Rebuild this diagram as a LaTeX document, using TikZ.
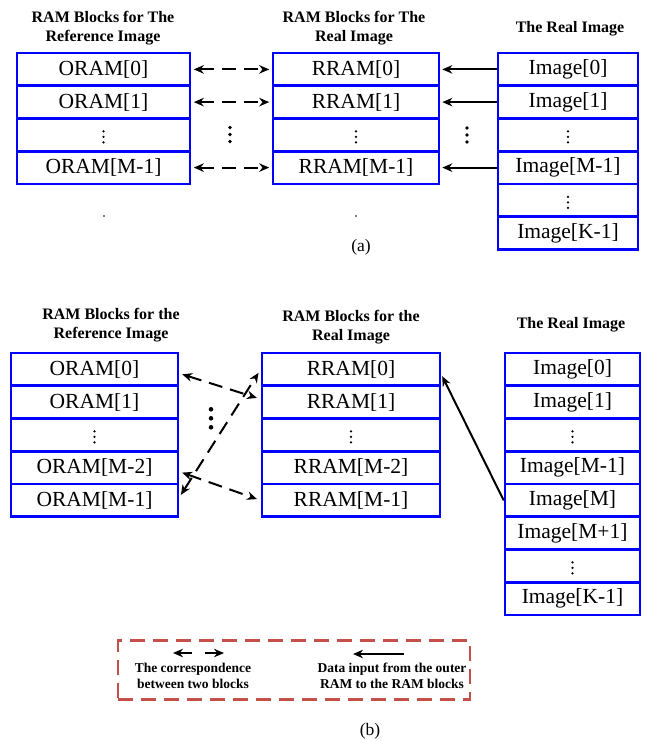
\documentclass[tikz,border=0pt]{standalone}
\usepackage{fontspec}
\setmainfont{Liberation Serif}
\usetikzlibrary{arrows.meta,calc}

% three stacked dots centred on a coordinate: name, spacing, radius
\newcommand\threedots[3]{%
  \foreach \k in {-1,0,1} {\fill ($(#1)+(0,\k*#2)$) circle (#3);}}

\definecolor{legred}{RGB}{196,80,74}

\begin{document}
\begin{tikzpicture}[x=1pt,y=-1pt,
  cell/.style={draw=blue, line width=2.6pt, minimum height=32.75pt, inner sep=0pt,
    font=\fontsize{21.5}{24}\selectfont},
  title/.style={align=center, inner sep=0pt, font=\fontsize{16}{19}\selectfont\bfseries},
  legtext/.style={align=center, inner sep=0pt, font=\fontsize{13.5}{16}\selectfont\bfseries},
  caption/.style={inner sep=0pt, font=\fontsize{17.5}{20}\selectfont},
  corr/.style={black, line width=2pt, dash pattern=on 14pt off 8pt,
    {Stealth[length=10pt,width=8.5pt]}-{Stealth[length=10pt,width=8.5pt]}},
  feed/.style={black, line width=2pt, -{Stealth[length=10pt,width=8.5pt]}},
]
\useasboundingbox (0,0) rectangle (645,741);

% ---------------- (a) ----------------
\node[title] (ta1) at (103,28.5) {RAM Blocks for The\\Reference Image};
\node[title] (ta2) at (354,28.5) {RAM Blocks for The\\Real Image};
\node[title] (ta3) at (570,29) {The Real Image};

\begin{scope}[every node/.append style={cell, minimum width=173pt}]
  \node (oa0) at (103.5,69.4)  {ORAM[0]};
  \node (oa1) at (103.5,102.1) {ORAM[1]};
  \node (oad) at (103.5,134.9) {};
  \node (oam) at (103.5,167.6) {ORAM[M-1]};
\end{scope}
\begin{scope}[every node/.append style={cell, minimum width=166pt}]
  \node (ra0) at (356,69.4)  {RRAM[0]};
  \node (ra1) at (356,102.1) {RRAM[1]};
  \node (rad) at (356,134.9) {};
  \node (ram) at (356,167.6) {RRAM[M-1]};
\end{scope}
\begin{scope}[every node/.append style={cell, minimum width=140pt}]
  \node (ia0)  at (568,69.4)  {Image[0]};
  \node (ia1)  at (568,102.1) {Image[1]};
  \node (iad1) at (568,134.9) {};
  \node (iam)  at (568,167.6) {Image[M-1]};
  \node (iad2) at (568,200.4) {};
  \node (iak)  at (568,233.1) {Image[K-1]};
\end{scope}

\foreach \n in {oad,rad,iad1,iad2} {\threedots{$(\n)+(0,2)$}{5.5}{1.3}}
\coordinate (gapa1) at (230,134.5);
\coordinate (gapa2) at (467,135);
\threedots{gapa1}{7}{1.8}
\threedots{gapa2}{7}{1.8}

\foreach \a/\b in {oa0/ra0, oa1/ra1, oam/ram}
  {\draw[corr, shorten <=2.5pt, shorten >=2.5pt] (\a.east) -- (\b.west);}
\foreach \a/\b in {ia0/ra0, ia1/ra1, iam/ram}
  {\draw[feed, shorten >=2pt] (\a.west) -- (\b.east);}

\coordinate (speck1) at (104,216);
\coordinate (speck2) at (356,216);
\fill (speck1) circle (0.8);
\fill (speck2) circle (0.8);

\node[caption] (capa) at (361,247) {(a)};

% ---------------- (b) ----------------
\node[title] (tb1) at (111,325) {RAM Blocks for the\\Reference Image};
\node[title] (tb2) at (351,327) {RAM Blocks for the\\Real Image};
\node[title] (tb3) at (571,325) {The Real Image};

\begin{scope}[every node/.append style={cell, minimum width=167pt}]
  \node (ob0)  at (94.5,369.4) {ORAM[0]};
  \node (ob1)  at (94.5,402.1) {ORAM[1]};
  \node (obd)  at (94.5,434.9) {};
  \node (obm2) at (94.5,467.6) {ORAM[M-2]};
  \node (obm1) at (94.5,500.4) {ORAM[M-1]};
\end{scope}
\begin{scope}[every node/.append style={cell, minimum width=178pt}]
  \node (rb0)  at (351,369.4) {RRAM[0]};
  \node (rb1)  at (351,402.1) {RRAM[1]};
  \node (rbd)  at (351,434.9) {};
  \node (rbm2) at (351,467.6) {RRAM[M-2]};
  \node (rbm1) at (351,500.4) {RRAM[M-1]};
\end{scope}
\begin{scope}[every node/.append style={cell, minimum width=135pt}]
  \node (ib0)  at (572.5,369.4) {Image[0]};
  \node (ib1)  at (572.5,402.1) {Image[1]};
  \node (ibd1) at (572.5,434.9) {};
  \node (ibm1) at (572.5,467.6) {Image[M-1]};
  \node (ibm)  at (572.5,500.4) {Image[M]};
  \node (ibmp) at (572.5,533.1) {Image[M+1]};
  \node (ibd2) at (572.5,565.9) {};
  \node (ibk)  at (572.5,598.6) {Image[K-1]};
\end{scope}

\foreach \n in {obd,rbd,ibd1,ibd2} {\threedots{$(\n)+(0,2)$}{5.5}{1.3}}
\coordinate (gapb) at (211,418.3);
\threedots{gapb}{9}{2.3}

\draw[corr, shorten <=3pt, shorten >=4pt] ([yshift=-4pt]ob0.east) -- ([yshift=3pt]rb1.west);
\draw[corr, shorten <=3pt, shorten >=4pt] ([yshift=3pt]obm1.east) -- (rb0.west);
\draw[corr, shorten <=3pt, shorten >=4pt] ([yshift=-4pt]obm2.east) -- (rbm1.west);
\draw[feed, shorten >=2pt] (ibm.west) -- ([yshift=-5pt]rb0.east);

% ---------------- legend ----------------
\node[draw=legred, line width=2.4pt, dash pattern=on 15pt off 8pt,
      minimum width=352pt, minimum height=59pt, inner sep=0pt] (legend) at (294,670) {};
\coordinate (lc1) at (192,653);
\coordinate (lc1t) at (173,653);
\coordinate (lc2) at (205,653);
\coordinate (lc2t) at (224,653);
\draw[feed] (lc1) -- (lc1t);
\draw[feed] (lc2) -- (lc2t);
\node[legtext] (legcorr) at (193,676) {The correspondence\\between two blocks};
\coordinate (lf1) at (404,654);
\coordinate (lf1t) at (353,654);
\draw[feed] (lf1) -- (lf1t);
\node[legtext] (legfeed) at (392,676) {Data input from the outer\\RAM to the RAM blocks};

\node[caption] (capb) at (370,731) {(b)};
\end{tikzpicture}
\end{document}
